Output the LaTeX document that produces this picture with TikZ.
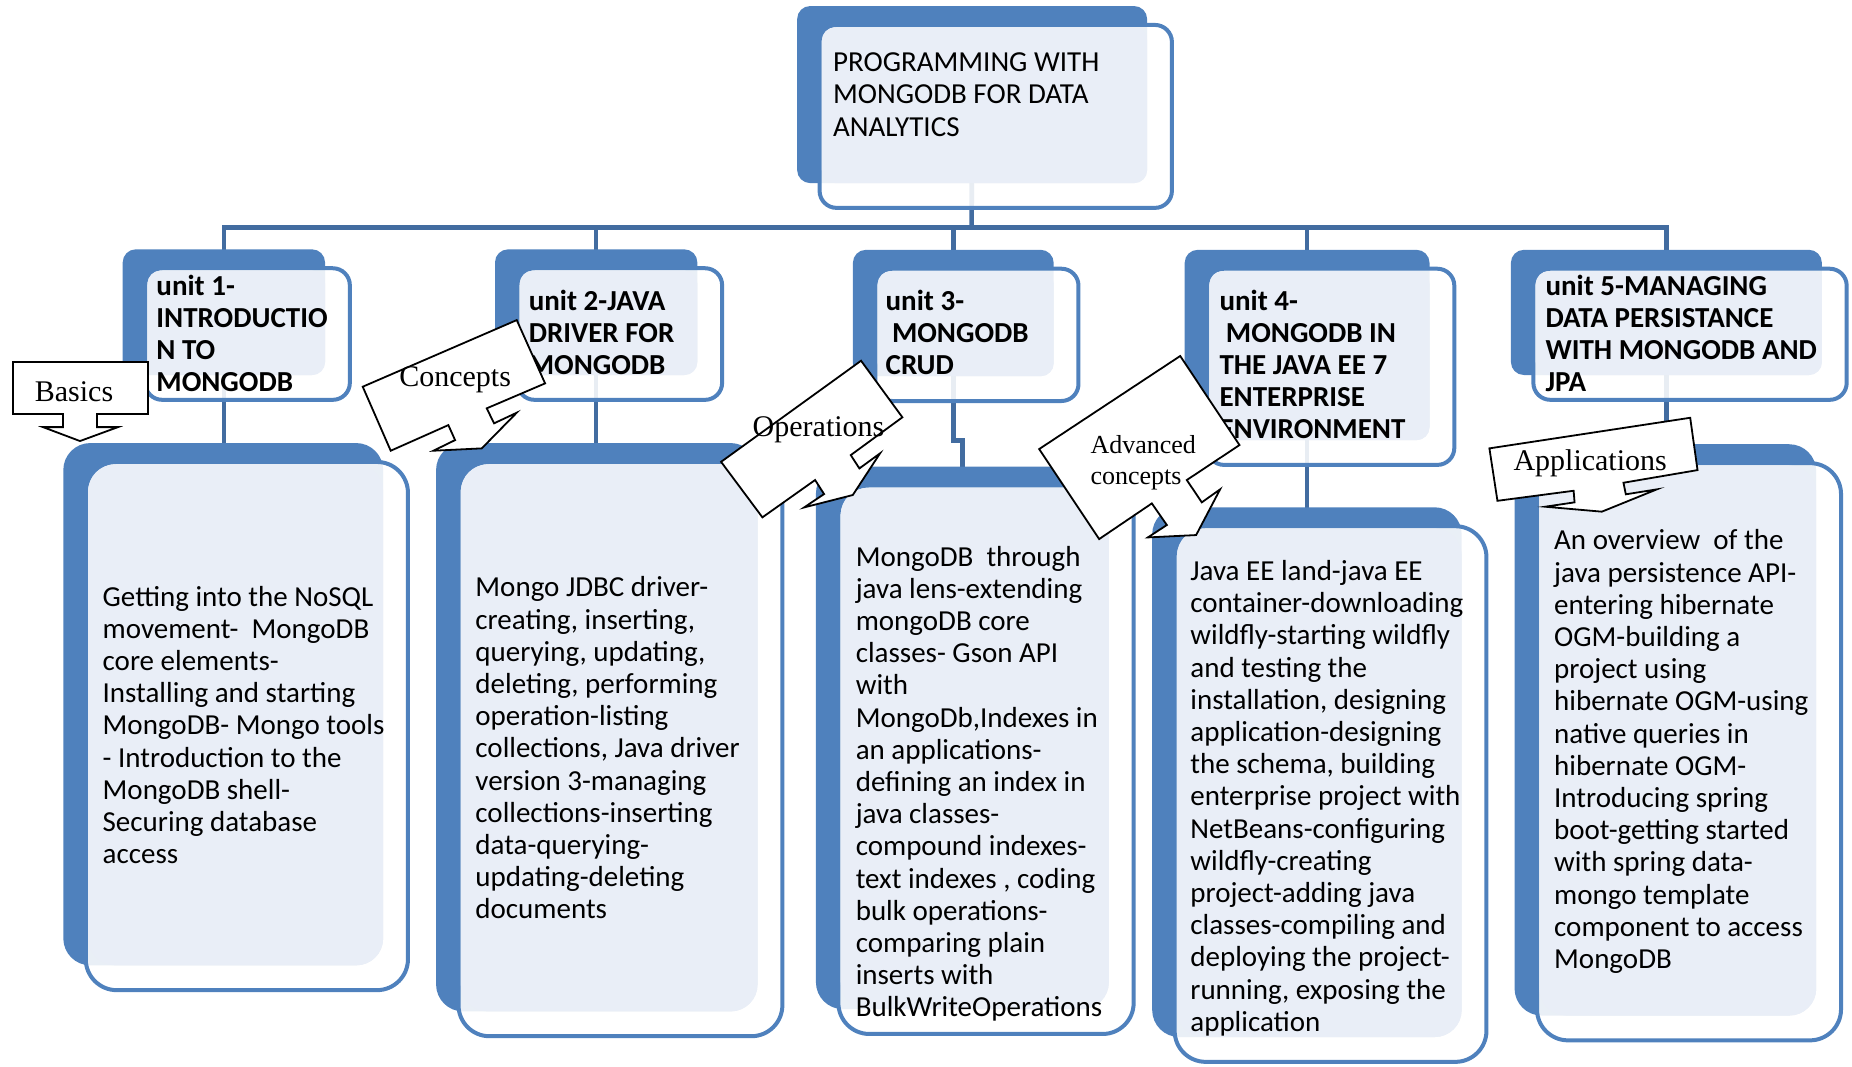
\documentclass[tikz,border=0pt]{standalone}
\usepackage{fontspec}
\setmainfont{Carlito}
\newfontfamily\calloutfont{Liberation Serif}
\usetikzlibrary{fit}
\pgfdeclarelayer{background}
\pgfsetlayers{background,main}

\definecolor{cardblue}{RGB}{79,129,189}
\definecolor{cardlight}{RGB}{233,238,247}
\definecolor{linkblue}{RGB}{66,108,160}

\tikzset{
  backbox/.style={fill=cardblue, draw=none, inner sep=0pt},
  frontbox/.style={draw=cardblue, line width=2pt, fill=white, fill opacity=0.88, inner sep=0pt},
  link/.style={draw=linkblue, line width=2.3pt},
  cardtext/.style={anchor=base west, align=left, inner sep=0pt, font=\fontsize{14.5}{16.1}\selectfont},
  unittext/.style={cardtext, font=\fontsize{14.5}{16.1}\selectfont\bfseries},
  callout/.style={draw=black, fill=white, line width=0.9pt},
  calltext/.style={inner sep=0pt, font=\calloutfont\fontsize{15}{17}\selectfont}
}

% name, corner radius (pt), back box corners
\newcommand{\card}[6]{%
  \node[backbox, rounded corners=#2pt, fit={(#3,#4) (#5,#6)}] (#1b) {};
  \node[frontbox, rounded corners=#2pt+2pt, fit={(#3+19,#4+16) (#5+21,#6+21)}] (#1) {};
  \fill[cardlight, rounded corners=#2pt] (#3+21,#4+18) rectangle (#5,#6);
}

\begin{document}
\begin{tikzpicture}[x=0.5906pt, y=-0.5906pt]
  \useasboundingbox (0,0) rectangle (1568,903);

  \card{top}{6.5}{674.9}{5.1}{971.2}{155}
  \card{u1}{6.5}{103.9}{211.1}{275.2}{317.5}
  \card{u2}{6.5}{419.1}{211.1}{590.4}{317.5}
  \card{u3}{6.5}{722.1}{211.5}{892.1}{318.5}
  \card{u4}{6.5}{1003}{211.5}{1210.3}{372.6}
  \card{u5}{6.5}{1279.2}{211.5}{1542.5}{317.5}
  \card{b1}{13.5}{53.6}{375.1}{324.4}{817.3}
  \card{b2}{13.5}{369.2}{375.1}{641.4}{856.3}
  \card{b3}{13.5}{690.8}{395}{938.8}{854.4}
  \card{b4}{13.5}{975.5}{429.5}{1237.5}{878}
  \card{b5}{13.5}{1282.3}{376.1}{1537.7}{859.8}

  \begin{pgfonlayer}{background}
    \coordinate (bus) at (822.6,192.5);
    \draw[link] (topb.center) -- (bus);
    \draw[link] (u1b.center) |- (bus) -| (u5b.center);
    \draw[link] (u2b.center) -- (u2b.center |- bus);
    \draw[link] (u3b.center) -- (u3b.center |- bus);
    \draw[link] (u4b.center) -- (u4b.center |- bus);
    \draw[link] (u1b.center) -- (u1b.center |- b1b.center);
    \draw[link] (u2b.center) -- (u2b.center |- b2b.center);
    \draw[link] (u3b.center) -- ++(0,108) -| (b3b.center);
    \draw[link] (u4b.center) -- (u4b.center |- b4b.center);
    \draw[link] (u5b.center) -- (u5b.center |- b5b.center);
  \end{pgfonlayer}

  % texts sit on the baseline of their last line
  \node[cardtext] (toptext) at (705,115.2) {PROGRAMMING WITH\\MONGODB FOR DATA\\ANALYTICS};

  \node[unittext] (u1text) at (132.1,331.6) {unit 1-\\INTRODUCTIO\\N TO\\MONGODB};
  \node[unittext] (u2text) at (447.4,317) {unit 2-JAVA\\DRIVER FOR\\MONGODB};
  \node[unittext] (u3text) at (749.5,317) {unit 3-\\\hspace*{.22em}MONGODB\\CRUD};
  \node[unittext] (u4text) at (1032.2,371.5) {unit 4-\\\hspace*{.22em}MONGODB IN\\THE JAVA EE 7\\ENTERPRISE\\ENVIRONMENT};
  \node[unittext] (u5text) at (1308.2,331.6) {unit 5-MANAGING\\DATA PERSISTANCE\\WITH MONGODB AND\\JPA};

  \node[cardtext] (b1text) at (86.6,731.3) {Getting into the NoSQL\\movement-~ MongoDB\\core elements-\\Installing and starting\\MongoDB- Mongo tools\\- Introduction to the\\MongoDB shell-\\Securing database\\access};
  \node[cardtext] (b2text) at (402.2,777.9) {Mongo JDBC driver-\\creating, inserting,\\querying, updating,\\deleting, performing\\operation-listing\\collections, Java driver\\version 3-managing\\collections-inserting\\data-querying-\\updating-deleting\\documents};
  \node[cardtext] (b3text) at (724.2,861) {MongoDB~ through\\java lens-extending\\mongoDB core\\classes- Gson API\\with\\MongoDb,Indexes in\\an applications-\\defining an index in\\java classes-\\compound indexes-\\text indexes , coding\\bulk operations-\\comparing plain\\inserts with\\BulkWriteOperations};
  \node[cardtext] (b4text) at (1007.5,873.1) {Java EE land-java EE\\container-downloading\\wildfly-starting wildfly\\and testing the\\installation, designing\\application-designing\\the schema, building\\enterprise project with\\NetBeans-configuring\\wildfly-creating\\project-adding java\\classes-compiling and\\deploying the project-\\running, exposing the\\application};
  \node[cardtext] (b5text) at (1315.5,820) {An overview~ of the\\java persistence API-\\entering hibernate\\OGM-building a\\project using\\hibernate OGM-using\\native queries in\\hibernate OGM-\\Introducing spring\\boot-getting started\\with spring data-\\mongo template\\component to access\\MongoDB};

  % callouts
  \draw[callout] (11,306.5) -- (125.3,306.5) -- (125.3,350.5) -- (82.1,350.5) -- (82.1,361.6) -- (99.9,361.6) -- (67.7,373.4) -- (36.4,361.6) -- (53.3,361.6) -- (53.3,350.5) -- (11,350.5) -- cycle;
  \node[calltext] (basics) at (62.7,331.6) {Basics};

  \draw[callout] (307.1,327.4) -- (437.5,271) -- (461.5,324.6) -- (412.1,345.7) -- (418.3,358.4) -- (437.5,349.4) -- (407.9,379.6) -- (366.9,381.6) -- (385.3,372.6) -- (379.6,359.9) -- (330.8,381.6) -- cycle;
  \node[calltext] (concepts) at (385.3,321.8) {Concepts};

  \draw[callout] (729,305.4) -- (764,353.3) -- (720.3,385.3) -- (727.6,396.6) -- (745.1,383.8) -- (722,419.1) -- (680.8,429.6) -- (697.7,418.3) -- (690.1,406.4) -- (645.5,438) -- (610.5,391) -- cycle;
  \node[calltext] (operations) at (693,364) {Operations};

  \draw[callout] (999.2,301.4) -- (1049.4,376.8) -- (1004.8,406.4) -- (1017.5,425.3) -- (1033,414.3) -- (1012.7,453) -- (971.8,455) -- (987.9,444.5) -- (975.2,426.2) -- (930.6,456.4) -- (879.8,380.2) -- cycle;
  \node[calltext, anchor=west, align=left, font=\calloutfont\fontsize{13}{15.5}\selectfont] (advanced) at (923,392) {Advanced\\concepts};

  \draw[callout] (1261,379.6) -- (1431,353.7) -- (1437.2,398) -- (1374.5,408.7) -- (1376.5,418.5) -- (1402.8,414.3) -- (1356.2,433.2) -- (1308.2,429) -- (1333.1,425.3) -- (1332.3,415.5) -- (1267.8,424) -- cycle;
  \node[calltext] (applications) at (1346.3,392.3) {Applications};
\end{tikzpicture}
\end{document}
